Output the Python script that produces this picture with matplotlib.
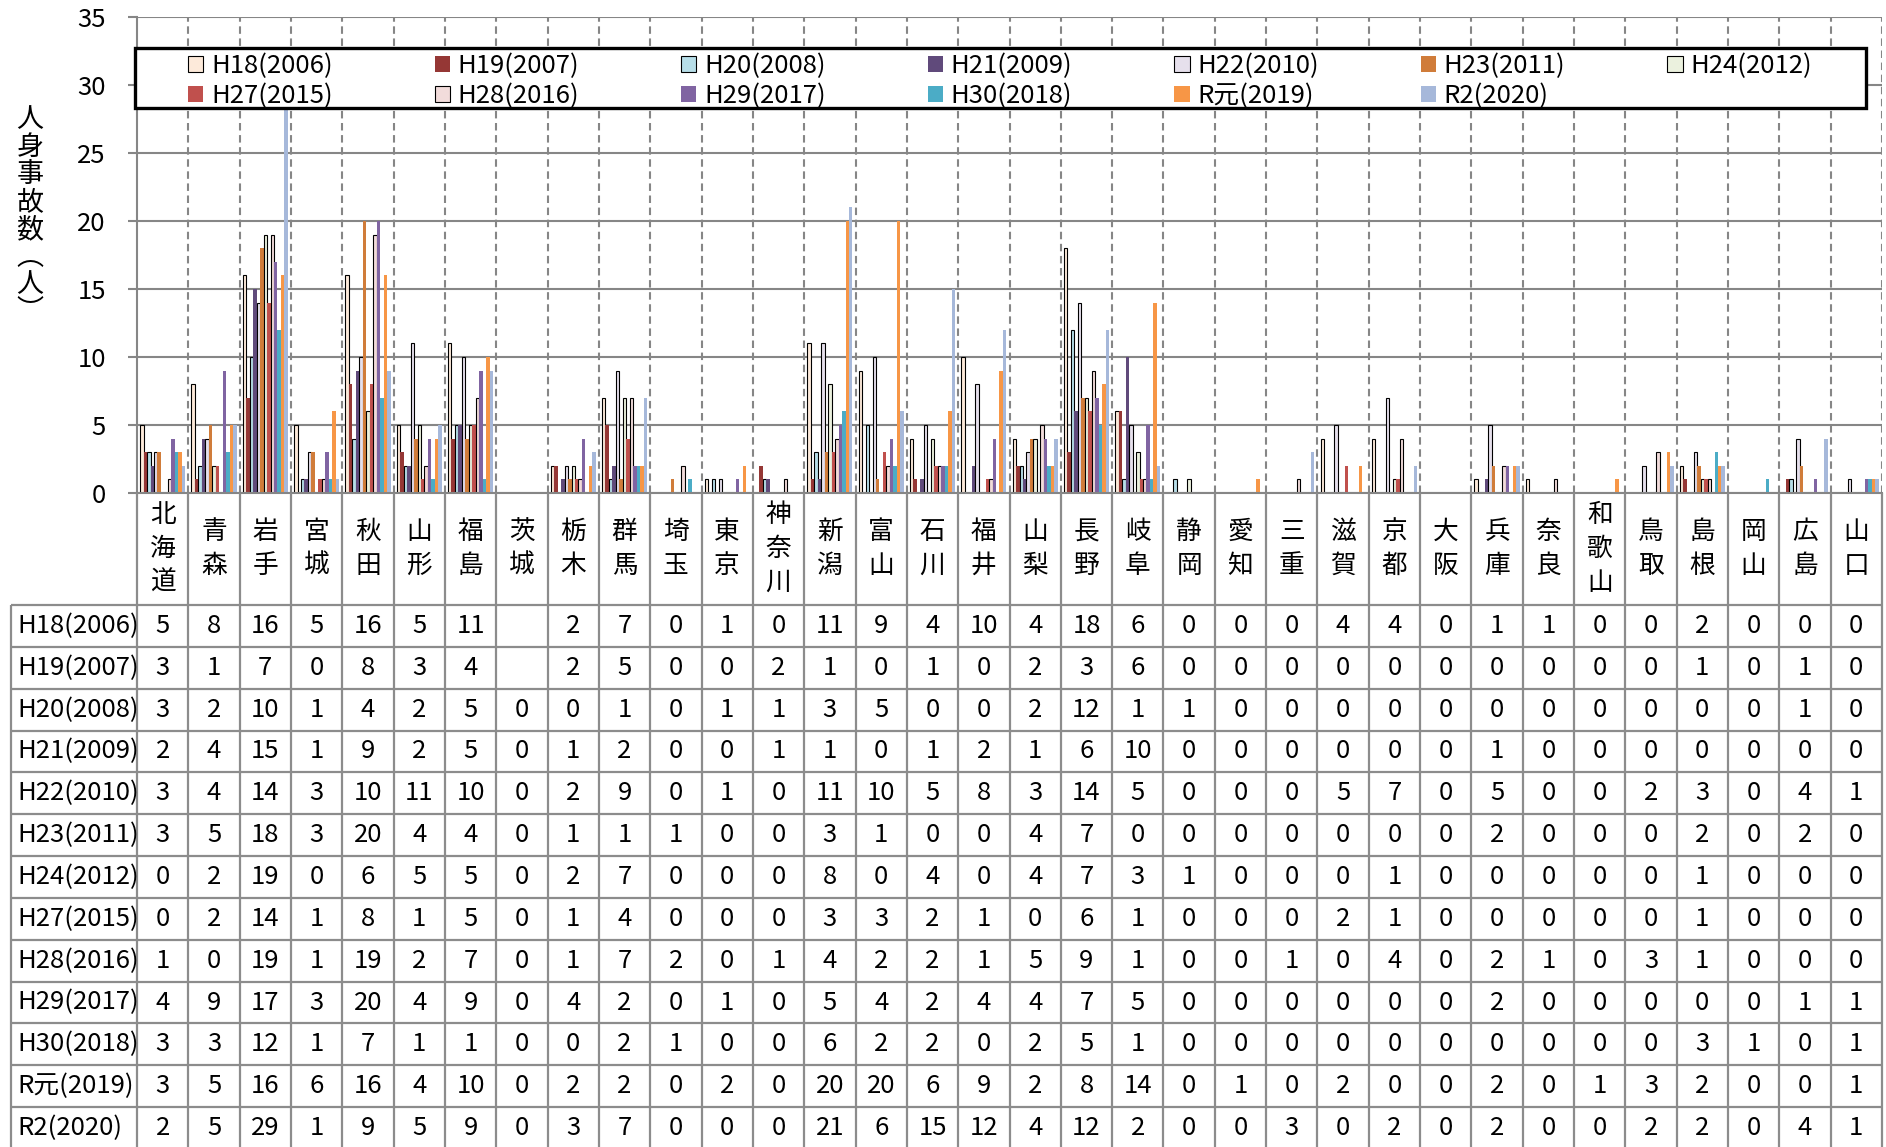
import numpy as np
import matplotlib
matplotlib.use("Agg")
import matplotlib.pyplot as plt
from matplotlib.patches import Rectangle

plt.rcParams['font.family'] = ['Noto Sans CJK JP', 'DejaVu Sans']

prefs = ['北海道', '青森', '岩手', '宮城', '秋田', '山形', '福島', '茨城', '栃木', '群馬',
         '埼玉', '東京', '神奈川', '新潟', '富山', '石川', '福井', '山梨', '長野', '岐阜',
         '静岡', '愛知', '三重', '滋賀', '京都', '大阪', '兵庫', '奈良', '和歌山', '鳥取',
         '島根', '岡山', '広島', '山口']

series = ['H18(2006)', 'H19(2007)', 'H20(2008)', 'H21(2009)', 'H22(2010)', 'H23(2011)',
          'H24(2012)', 'H27(2015)', 'H28(2016)', 'H29(2017)', 'H30(2018)', 'R元(2019)',
          'R2(2020)']

colors = ['#FDEADA', '#953735', '#B7DEE8', '#604A7B', '#E6E0EC', '#D07C3A', '#EBF1DE',
          '#C0504D', '#F2DCDB', '#8064A2', '#4BACC6', '#F79646', '#A6B8DA']
edged = [True, False, True, False, True, False, True, False, True, False, False, False, False]

# None = blank cell in the table
h18 = [5, 8, 16, 5, 16, 5, 11, None, 2, 7, 0, 1, 0, 11, 9, 4, 10, 4, 18, 6, 0, 0, 0, 4, 4, 0, 1, 1, 0, 0, 2, 0, 0, 0]
h19 = [3, 1, 7, 0, 8, 3, 4, None, 2, 5, 0, 0, 2, 1, 0, 1, 0, 2, 3, 6, 0, 0, 0, 0, 0, 0, 0, 0, 0, 0, 1, 0, 1, 0]
h20 = [3, 2, 10, 1, 4, 2, 5, 0, 0, 1, 0, 1, 1, 3, 5, 0, 0, 2, 12, 1, 1, 0, 0, 0, 0, 0, 0, 0, 0, 0, 0, 0, 1, 0]
h21 = [2, 4, 15, 1, 9, 2, 5, 0, 1, 2, 0, 0, 1, 1, 0, 1, 2, 1, 6, 10, 0, 0, 0, 0, 0, 0, 1, 0, 0, 0, 0, 0, 0, 0]
h22 = [3, 4, 14, 3, 10, 11, 10, 0, 2, 9, 0, 1, 0, 11, 10, 5, 8, 3, 14, 5, 0, 0, 0, 5, 7, 0, 5, 0, 0, 2, 3, 0, 4, 1]
h23 = [3, 5, 18, 3, 20, 4, 4, 0, 1, 1, 1, 0, 0, 3, 1, 0, 0, 4, 7, 0, 0, 0, 0, 0, 0, 0, 2, 0, 0, 0, 2, 0, 2, 0]
h24 = [0, 2, 19, 0, 6, 5, 5, 0, 2, 7, 0, 0, 0, 8, 0, 4, 0, 4, 7, 3, 1, 0, 0, 0, 1, 0, 0, 0, 0, 0, 1, 0, 0, 0]
h27 = [0, 2, 14, 1, 8, 1, 5, 0, 1, 4, 0, 0, 0, 3, 3, 2, 1, 0, 6, 1, 0, 0, 0, 2, 1, 0, 0, 0, 0, 0, 1, 0, 0, 0]
h28 = [1, 0, 19, 1, 19, 2, 7, 0, 1, 7, 2, 0, 1, 4, 2, 2, 1, 5, 9, 1, 0, 0, 1, 0, 4, 0, 2, 1, 0, 3, 1, 0, 0, 0]
h29 = [4, 9, 17, 3, 20, 4, 9, 0, 4, 2, 0, 1, 0, 5, 4, 2, 4, 4, 7, 5, 0, 0, 0, 0, 0, 0, 2, 0, 0, 0, 0, 0, 1, 1]
h30 = [3, 3, 12, 1, 7, 1, 1, 0, 0, 2, 1, 0, 0, 6, 2, 2, 0, 2, 5, 1, 0, 0, 0, 0, 0, 0, 0, 0, 0, 0, 3, 1, 0, 1]
r01 = [3, 5, 16, 6, 16, 4, 10, 0, 2, 2, 0, 2, 0, 20, 20, 6, 9, 2, 8, 14, 0, 1, 0, 2, 0, 0, 2, 0, 1, 3, 2, 0, 0, 1]
r02 = [2, 5, 29, 1, 9, 5, 9, 0, 3, 7, 0, 0, 0, 21, 6, 15, 12, 4, 12, 2, 0, 0, 3, 0, 2, 0, 2, 0, 0, 2, 2, 0, 4, 1]

values = [h18, h19, h20, h21, h22, h23, h24, h27, h28, h29, h30, r01, r02]

W, H = 1886, 1147
grid_c = '#868686'
line_c = '#8C8C8C'
fs = 18.5


def box(x0, y0, x1, y1):
    # pixel box (top-left origin) -> figure rect
    return [x0 / W, 1 - y1 / H, (x1 - x0) / W, (y1 - y0) / H]


fig = plt.figure(figsize=(W / 100, H / 100), dpi=100)

ax = fig.add_axes(box(137, 17, 1882, 493))
n = len(prefs)
m = len(series)
x = np.arange(n) + 0.5
group = 0.88
bw = group / m
bars = []
for k in range(m):
    v = np.array([np.nan if a is None else a for a in values[k]], dtype=float)
    off = -group / 2 + bw * (k + 0.5)
    b = ax.bar(x + off, v, width=bw, color=colors[k],
               edgecolor='black' if edged[k] else colors[k],
               linewidth=0.8 if edged[k] else 0, label=series[k], zorder=2)
    bars.append(b)

ax.set_xlim(0, n)
ax.set_ylim(0, 35)
ax.set_yticks(range(0, 36, 5))
ax.set_xticks([])
ax.set_axisbelow(True)
ax.yaxis.grid(True, color=grid_c, lw=1.5)
ax.vlines(np.arange(1, n + 1), 0, 35, colors=grid_c, linestyles=(0, (3.6, 2.2)), lw=1.5, zorder=1)
ax.tick_params(axis='y', length=6.5, width=1.5, color=grid_c, labelsize=fs, pad=16)
for s in ['top', 'right']:
    ax.spines[s].set_visible(False)
for s in ['left', 'bottom']:
    ax.spines[s].set_color(grid_c)
    ax.spines[s].set_linewidth(1.5)

# legend: 7 columns, entries read row by row
ncol = 7
order = []
for j in range(ncol):
    order += [j] + ([j + ncol] if j + ncol < m else [])
ax.add_patch(Rectangle((135 / W, 1 - 108 / H), (1866 - 135) / W, 60 / H, transform=fig.transFigure,
                       facecolor='white', edgecolor='black', lw=2.4, zorder=4, clip_on=False))
ax.legend([bars[k] for k in order], [series[k] for k in order],
          loc='center', bbox_to_anchor=box(188, 52, 1812, 110), bbox_transform=fig.transFigure,
          mode='expand', ncol=ncol, frameon=False, fontsize=fs, handlelength=0.6, handleheight=0.6,
          handletextpad=0.3, borderaxespad=0, borderpad=0, labelspacing=0.15)

fig.text(30 / W, 1 - 216 / H, '\n'.join('人身事故数︵人︶'), ha='center', va='center',
         fontsize=19.5, linespacing=1.02)

# data table
cat_w = (1882 - 137) / n
lab_w = (137 - 11) / cat_w
tax = fig.add_axes(box(11, 493, 1882, 1149))
total = 1149 - 493
head_h = 112
row_h = (total - head_h) / m
tax.set_xlim(-lab_w, n)
tax.set_ylim(total, 0)
tax.axis('off')
tax.hlines([head_h + r * row_h for r in range(m + 1)], -lab_w, n, colors=line_c, lw=1.6, clip_on=False)
tax.vlines(np.arange(0, n + 1), 0, total, colors=line_c, lw=1.6, clip_on=False)
tax.vlines([-lab_w], head_h, total, colors=line_c, lw=1.6, clip_on=False)
for i, p in enumerate(prefs):
    tax.text(i + 0.5, head_h / 2, '\n'.join(p), ha='center', va='center', fontsize=fs, linespacing=1.4)
for r in range(m):
    yc = head_h + (r + 0.5) * row_h
    tax.text(-lab_w + 6 / cat_w, yc, series[r], ha='left', va='center', fontsize=fs)
    for i in range(n):
        v = values[r][i]
        if v is not None:
            tax.text(i + 0.5, yc, str(v), ha='center', va='center', fontsize=fs)

fig.savefig('out.png', dpi=100)
